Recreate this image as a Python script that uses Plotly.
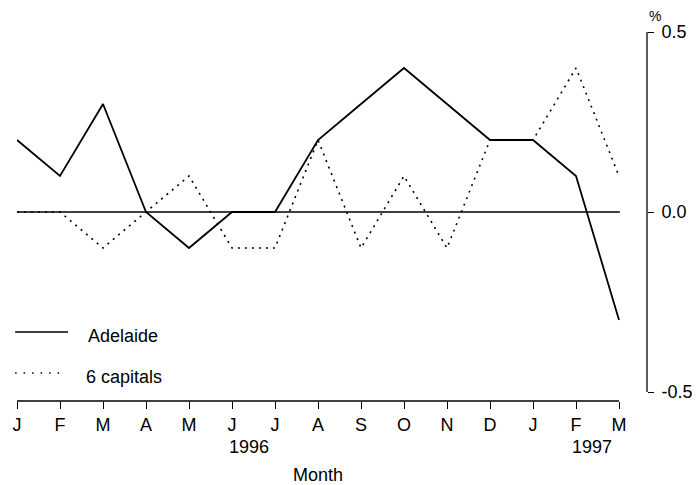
import plotly.graph_objects as go

months = ["J", "F", "M", "A", "M", "J", "J", "A", "S", "O", "N", "D", "J", "F", "M"]
adelaide = [0.2, 0.1, 0.3, 0.0, -0.1, 0.0, 0.0, 0.2, 0.3, 0.4, 0.3, 0.2, 0.2, 0.1, -0.3]
capitals = [0.0, 0.0, -0.1, 0.0, 0.1, -0.1, -0.1, 0.2, -0.1, 0.1, -0.1, 0.2, 0.2, 0.4, 0.1]
y_ticks = [-0.5, 0.0, 0.5]
y_ticktext = ["-0.5", "0.0", "0.5"]
year_labels = ["1996", "1997"]
year_pos = [5.395, 13.37]

x = list(range(len(months)))
FONT = "Liberation Sans, Arial, sans-serif"
FS = 18

fig = go.Figure()
fig.add_trace(go.Scatter(x=x, y=capitals, mode="lines", name="6 capitals",
                         line=dict(color="black", width=1.6, dash="2px,5px")))
fig.add_trace(go.Scatter(x=x, y=adelaide, mode="lines", name="Adelaide",
                         line=dict(color="black", width=1.8)))

# zero line
fig.add_shape(type="line", xref="x", yref="y", x0=-0.05, x1=14.02, y0=0, y1=0,
              line=dict(color="black", width=1.3), layer="below")
# x axis line
fig.add_shape(type="line", xref="x", yref="paper", x0=0, x1=14, y0=0, y1=0,
              line=dict(color="black", width=1.3))
# right y axis line
fig.add_shape(type="line", xref="paper", yref="y", x0=1, x1=1, y0=-0.5, y1=0.5,
              line=dict(color="black", width=1.3))

# legend
fig.add_shape(type="line", xref="paper", yref="paper", x0=-0.003, x1=0.081, y0=0.187, y1=0.187,
              line=dict(color="black", width=1.4))
fig.add_shape(type="line", xref="paper", yref="paper", x0=-0.003, x1=0.076, y0=0.076, y1=0.076,
              line=dict(color="black", width=1.4, dash="1.5px,7px"))
fig.add_annotation(text="Adelaide", xref="paper", yref="paper", x=0.109, y=0.175,
                   xanchor="left", yanchor="middle", showarrow=False,
                   font=dict(family=FONT, size=FS, color="black"))
fig.add_annotation(text="6 capitals", xref="paper", yref="paper", x=0.106, y=0.065,
                   xanchor="left", yanchor="middle", showarrow=False,
                   font=dict(family=FONT, size=FS, color="black"))

for lab, pos in zip(year_labels, year_pos):
    fig.add_annotation(text=lab, xref="x", yref="paper", x=pos, y=0, yshift=-46,
                       xanchor="center", yanchor="middle", showarrow=False,
                       font=dict(family=FONT, size=FS, color="black"))
fig.add_annotation(text="Month", xref="x", yref="paper", x=7, y=0, yshift=-74,
                   xanchor="center", yanchor="middle", showarrow=False,
                   font=dict(family=FONT, size=FS, color="black"))
fig.add_annotation(text="%", xref="paper", yref="paper", x=1.0127, y=1, yshift=16,
                   xanchor="center", yanchor="middle", showarrow=False,
                   font=dict(family=FONT, size=14, color="black"))

fig.update_layout(
    width=692, height=477,
    margin=dict(l=9, r=53, t=24, b=84),
    paper_bgcolor="white", plot_bgcolor="white",
    showlegend=False,
    font=dict(family=FONT, size=FS, color="black"),
    xaxis=dict(range=[0, 14.651], tickvals=x, ticktext=months, showgrid=False,
               zeroline=False, showline=False, ticks="outside", ticklen=7,
               tickwidth=1.3, tickcolor="black", tickfont=dict(size=FS),
               automargin=False),
    yaxis=dict(range=[-0.525, 0.5], side="right", tickvals=y_ticks,
               ticktext=y_ticktext, showgrid=False, zeroline=False,
               showline=False, ticks="outside", ticklen=6, tickwidth=1.3,
               tickcolor="black", tickfont=dict(size=FS), ticklabelstandoff=4,
               automargin=False),
)

fig.write_html("out.html")
